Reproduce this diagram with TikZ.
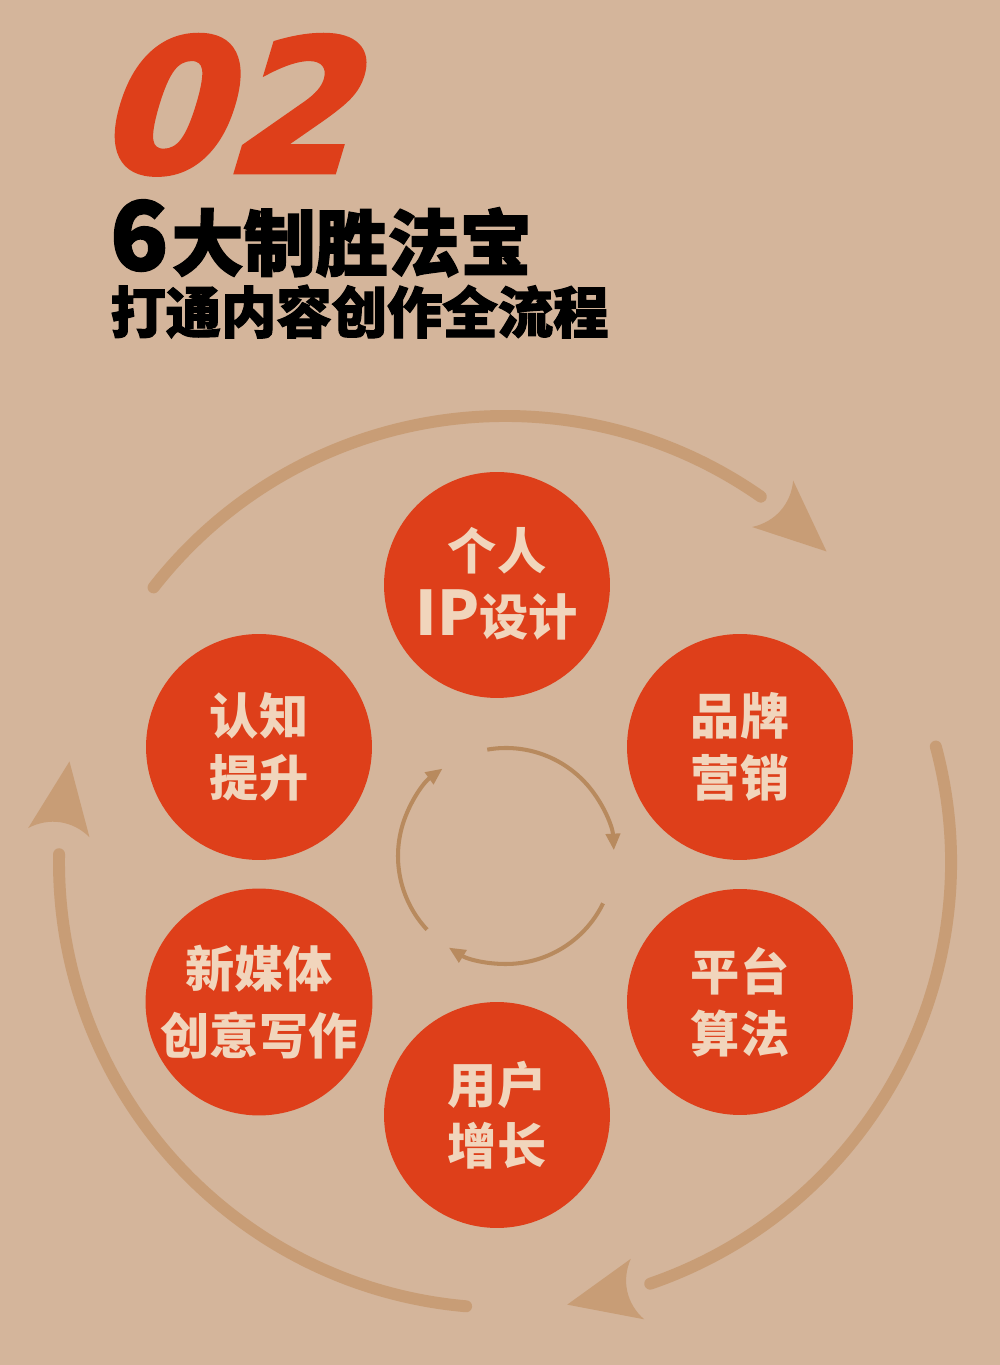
\documentclass[tikz,border=0pt]{standalone}
\usepackage{fontspec}
\usetikzlibrary{arrows.meta}

\newfontfamily\cjk{Noto Sans CJK SC}
\newfontfamily\cjkheavy{Noto Sans CJK SC}[BoldFeatures={FakeBold=2}]
\newfontfamily\numfont{DejaVu Sans}[BoldFeatures={FakeSlant=0.3,FakeBold=2.5}]

\definecolor{bgtan}{HTML}{D4B59B}
\definecolor{tomato}{HTML}{DE3F1A}
\definecolor{cream}{HTML}{F1D5BC}
\definecolor{ringclr}{HTML}{C89D76}
\definecolor{innerclr}{HTML}{B88A5E}

\tikzset{
    bigtip/.pic={\fill[ringclr] (0,0) -- (-72,31) .. controls (-58,12) and (-58,-12) .. (-72,-31) -- cycle;},
    stage/.style={circle, fill=tomato, minimum size=4.52cm, inner sep=0pt, text=cream, align=center,
        font=\cjk\bfseries\fontsize{28}{35}\selectfont}
}

\begin{document}
\begin{tikzpicture}[x=0.02cm, y=0.02cm]

% Background
\useasboundingbox (0,0) rectangle (1000,1365);
\fill[bgtan] (0,0) rectangle (1000,1365);

% Heading
\node[anchor=base west, inner sep=0pt, text depth=0pt, text=tomato, font=\numfont\bfseries\fontsize{105}{105}\selectfont] (num) at (93,1193) {02};
\node[anchor=base west, inner sep=0pt, font=\cjkheavy\bfseries\fontsize{41}{41}\selectfont] (title) at (110,1095) {{\fontsize{54}{54}\selectfont 6}\hspace{2pt}大制胜法宝};
\node[anchor=base west, inner sep=0pt, font=\cjkheavy\bfseries\fontsize{31.5}{31.5}\selectfont] (subtitle) at (110,1032) {打通内容创作全流程};

% Outer cycle
\coordinate (ring) at (505,503);
\foreach \sa/\ea/\ta in {142/55/44, 15/-71/-82, -95/-181/-193}{
    \draw[ringclr, line width=6.8pt, line cap=round] ([shift={(\sa:446)}]ring) arc[start angle=\sa, end angle=\ea, radius=446];
    \pic[rotate=\ta-85.5] at ([shift={(\ta:447)}]ring) {bigtip};
}

% Inner cycle
\coordinate (hub) at (506,509);
\foreach \sa/\ta in {100/3, -26/-122, -137/-234}
    \draw[innerclr, line width=2.3pt, -{Triangle[length=9.5pt,width=8pt]}] ([shift={(\sa:108)}]hub) arc[start angle=\sa, end angle=\ta, radius=108];

% Six stages
\node[stage] (ip) at (497,780) {\raisebox{4pt}{个人}\\[3pt]\raisebox{4pt}{{\fontsize{35}{35}\selectfont IP}设计}};
\node[stage] (brand) at (740,618) {品牌\\营销};
\node[stage] (algo) at (740,363) {平台\\算法};
\node[stage] (user) at (497,250) {用户\\增长};
\node[stage] (media) at (259,363) {新媒体\\[3pt]创意写作};
\node[stage] (cogn) at (259,618) {认知\\提升};

\end{tikzpicture}
\end{document}
